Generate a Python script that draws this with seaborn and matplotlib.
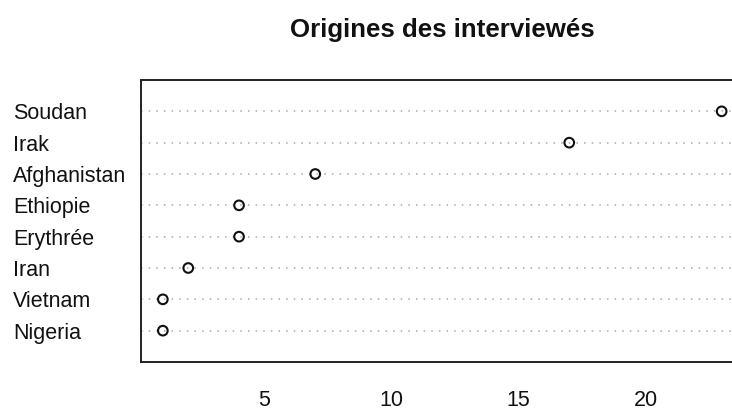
import matplotlib
matplotlib.use("Agg")
import matplotlib.pyplot as plt
import seaborn as sns
import numpy as np
import pandas as pd

# Data (bottom to top, as in the R dotchart)
countries = ["Nigeria", "Vietnam", "Iran", "Erythrée", "Ethiopie", "Afghanistan", "Irak", "Soudan"]
counts = [1, 1, 2, 4, 4, 7, 17, 23]
x_ticks = [5, 10, 15, 20]
title = "Origines des interviewés"

sns.set_style("white")
plt.rcParams["font.family"] = ["Liberation Sans", "DejaVu Sans"]

df = pd.DataFrame({"pays": countries, "n": counts})
df["pos"] = np.arange(1, len(countries) + 1)

W, H = 732, 412
fig = plt.figure(figsize=(W / 100, H / 100), dpi=100)
ax = fig.add_axes([140.5 / W, 50 / H, (744 - 140.5) / W, 282 / H])

# dotted reference lines
ax.set_yticks(df["pos"])
ax.grid(axis="y", linestyle=(0, (1, 4)), color="#a8a8a8", linewidth=1.1)
ax.grid(axis="x", visible=False)
ax.set_axisbelow(True)

sns.scatterplot(data=df, x="n", y="pos", ax=ax, s=48, marker="o",
                facecolor="none", edgecolor="#111111", linewidth=1.5, zorder=3)

rng = max(counts) - min(counts)
ax.set_xlim(min(counts) - 0.04 * rng, max(counts) + 0.04 * rng)
ax.set_ylim(0, len(countries) + 1)

ax.set_yticklabels(df["pays"], ha="left", fontsize=15.5, color="#111111")
ax.tick_params(axis="y", length=0, pad=(140.5 - 13) * 0.72)
ax.set_xticks(x_ticks)
ax.set_xticklabels([str(t) for t in x_ticks], fontsize=15.5, color="#111111")
ax.tick_params(axis="x", length=10, width=1.3, color="#222222", pad=10.5)

for sp in ax.spines.values():
    sp.set_visible(True)
    sp.set_color("#222222")
    sp.set_linewidth(1.4)

ax.set_xlabel("")
ax.set_ylabel("")
ax.set_title(title, fontsize=18.6, fontweight="bold", pad=31, color="#111111")

fig.savefig("out.png", dpi=100)
